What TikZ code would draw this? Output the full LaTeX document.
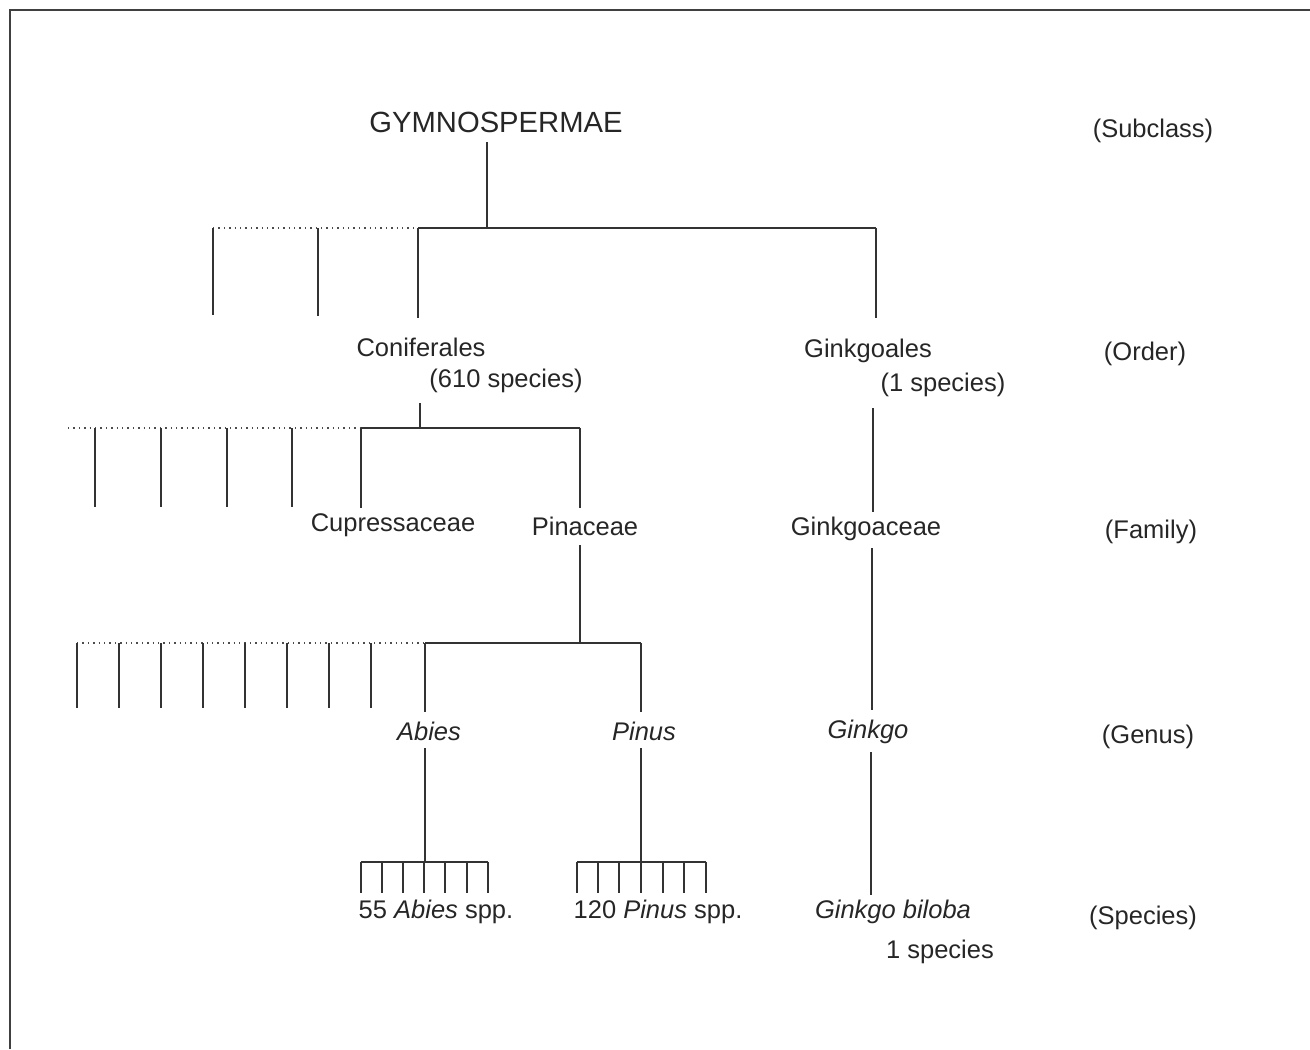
\documentclass[tikz,border=0pt]{standalone}
\usepackage{fontspec}
\setmainfont{Liberation Sans}
\begin{document}
\begin{tikzpicture}[x=0.5pt,y=-0.5pt,
  lbl/.style={inner sep=0pt,text=black!85,font=\fontsize{12.75}{15}\selectfont},
  big/.style={inner sep=0pt,text=black!85,font=\fontsize{14.6}{17}\selectfont},
  br/.style={line width=0.8pt,draw=black!80},
  dots/.style={line width=0.7pt,draw=black!70,dotted},
  frame/.style={line width=0.8pt,draw=black!75}]
\useasboundingbox (0,0) rectangle (1310,1049);
% frame
\coordinate (fa) at (10,1049);
\coordinate (fb) at (10,10);
\coordinate (fc) at (1310,10);
\draw[frame] (fa) -- (fb) -- (fc);

% rank labels
\node[lbl] (rs) at (1153,131) {(Subclass)};
\node[lbl] (ro) at (1145,354) {(Order)};
\node[lbl] (rf) at (1151,532) {(Family)};
\node[lbl] (rg) at (1148,737) {(Genus)};
\node[lbl] (rsp) at (1143,918) {(Species)};

% subclass
\node[big] (gym) at (496,122) {GYMNOSPERMAE};
\coordinate (g0) at (487,142);
\coordinate (g1) at (487,228);
\draw[br] (g0) -- (g1);
\coordinate (hL) at (213,228);
\coordinate (hC) at (418,228);
\coordinate (hR) at (876,228);
\draw[dots] (hL) -- (hC);
\draw[br] (hC) -- (hR);
\foreach \x/\b in {213/315,318/316}{
  \coordinate (ot\x) at (\x,228);
  \coordinate (ob\x) at (\x,\b);
  \draw[br] (ot\x) -- (ob\x);
}
\coordinate (cb) at (418,318);
\draw[br] (hC) -- (cb);
\coordinate (gb) at (876,318);
\draw[br] (hR) -- (gb);

% order
\node[lbl] (con) at (421,347) {Coniferales};
\node[lbl] (con2) at (506,381) {(610 species)};
\node[lbl] (gin) at (868,351) {Ginkgoales};
\node[lbl] (gin2) at (943,385) {(1 species)};

\coordinate (c0) at (420,403);
\coordinate (c1) at (420,428);
\draw[br] (c0) -- (c1);
\coordinate (fL) at (68,428);
\coordinate (fC) at (361,428);
\coordinate (fR) at (580,428);
\draw[dots] (fL) -- (fC);
\draw[br] (fC) -- (fR);
\foreach \x in {95,161,227,292}{
  \coordinate (ft\x) at (\x,428);
  \coordinate (fb\x) at (\x,507);
  \draw[br] (ft\x) -- (fb\x);
}
\coordinate (cub) at (361,508);
\draw[br] (fC) -- (cub);
\coordinate (pib) at (580,508);
\draw[br] (fR) -- (pib);

\coordinate (gk0) at (873,408);
\coordinate (gk1) at (873,512);
\draw[br] (gk0) -- (gk1);

% family
\node[lbl] (cup) at (393,525) {Cupressaceae};
\node[lbl] (pin) at (585,526) {Pinaceae};
\node[lbl] (gkc) at (866,529) {Ginkgoaceae};

\coordinate (p0) at (580,545);
\coordinate (p1) at (580,643);
\draw[br] (p0) -- (p1);
\coordinate (nL) at (77,643);
\coordinate (nC) at (425,643);
\coordinate (nR) at (641,643);
\draw[dots] (nL) -- (nC);
\draw[br] (nC) -- (nR);
\foreach \x in {77,119,161,203,245,287,329,371}{
  \coordinate (nt\x) at (\x,643);
  \coordinate (nb\x) at (\x,708);
  \draw[br] (nt\x) -- (nb\x);
}
\coordinate (abb) at (425,712);
\draw[br] (nC) -- (abb);
\coordinate (pnb) at (641,712);
\draw[br] (nR) -- (pnb);

\coordinate (gc0) at (872,548);
\coordinate (gc1) at (872,710);
\draw[br] (gc0) -- (gc1);

% genus
\node[lbl,font=\fontsize{12.75}{15}\selectfont\itshape] (abies) at (429,731) {Abies};
\node[lbl,font=\fontsize{12.75}{15}\selectfont\itshape] (pinus) at (644,731) {Pinus};
\node[lbl,font=\fontsize{12.75}{15}\selectfont\itshape] (ginkgo) at (868,732) {Ginkgo};

\coordinate (a0) at (425,748);
\coordinate (a1) at (425,862);
\draw[br] (a0) -- (a1);
\coordinate (q0) at (641,748);
\coordinate (q1) at (641,862);
\draw[br] (q0) -- (q1);
\coordinate (k0) at (871,752);
\coordinate (k1) at (871,895);
\draw[br] (k0) -- (k1);

% species ticks
\coordinate (aL) at (361,862);
\coordinate (aR) at (488,862);
\draw[br] (aL) -- (aR);
\foreach \x in {361,382,403,424,445,467,488}{
  \coordinate (at\x) at (\x,862);
  \coordinate (ab\x) at (\x,893);
  \draw[br] (at\x) -- (ab\x);
}
\coordinate (pL) at (577,862);
\coordinate (pR) at (706,862);
\draw[br] (pL) -- (pR);
\foreach \x in {577,598,619,641,663,684,706}{
  \coordinate (pt\x) at (\x,862);
  \coordinate (pb\x) at (\x,893);
  \draw[br] (pt\x) -- (pb\x);
}

% species
\node[lbl] (abs) at (436,912) {55 \textit{Abies} spp.};
\node[lbl] (pns) at (658,912) {120 \textit{Pinus} spp.};
\node[lbl] (gkb) at (893,912) {\textit{Ginkgo biloba}};
\node[lbl] (gks) at (940,952) {1 species};
\end{tikzpicture}
\end{document}
